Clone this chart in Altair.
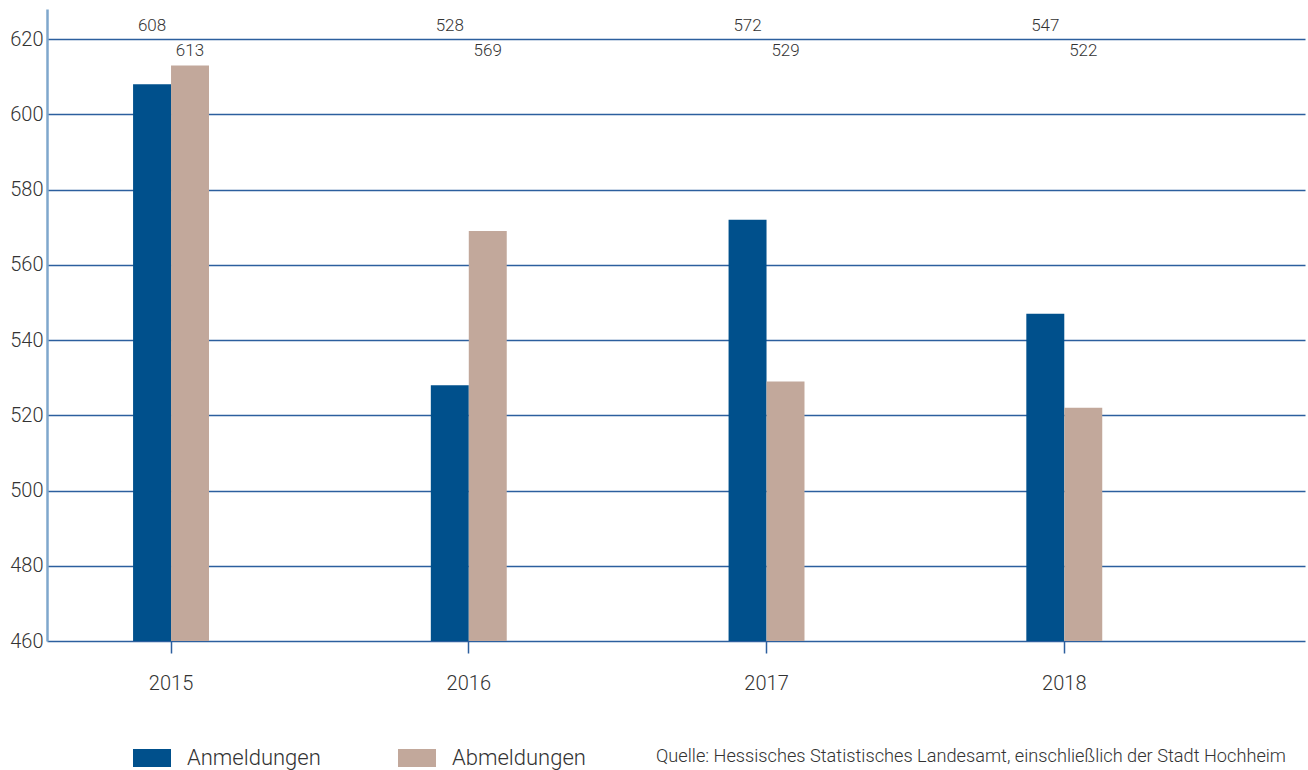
import altair as alt
import pandas as pd

years = ["2015", "2016", "2017", "2018"]
anmeldungen = [608, 528, 572, 547]
abmeldungen = [613, 569, 529, 522]
series = ["Anmeldungen", "Abmeldungen"]
colors = ["#00508c", "#c2a89b"]
y_ticks = [460, 480, 500, 520, 540, 560, 580, 600, 620]
source = "Quelle: Hessisches Statistisches Landesamt, einschließlich der Stadt Hochheim"

rows = []
for i, yr in enumerate(years):
    rows.append({"Jahr": yr, "Serie": series[0], "Wert": anmeldungen[i]})
    rows.append({"Jahr": yr, "Serie": series[1], "Wert": abmeldungen[i]})
df = pd.DataFrame(rows)

FONT = "Roboto"
TXT = "#333333"
GRID = "#2c5f9e"

x_enc = alt.X(
    "Jahr:N",
    sort=years,
    scale=alt.Scale(paddingInner=0.745, paddingOuter=0.485, align=0.298),
    axis=alt.Axis(
        title=None, labelAngle=0, domain=False, ticks=True, tickColor=GRID,
        tickSize=12, tickWidth=1.5, labelPadding=20, labelFontSize=20,
        labelColor=TXT, labelFont=FONT, labelFontWeight=300, grid=False,
    ),
)
xoff = alt.XOffset("Serie:N", sort=series, scale=alt.Scale(domain=series, paddingInner=0, paddingOuter=0))
color = alt.Color(
    "Serie:N",
    scale=alt.Scale(domain=series, range=colors),
    legend=alt.Legend(
        title=None, orient="none", legendX=86, legendY=730, direction="horizontal",
        symbolType="M-1,-0.47H1V0.47H-1Z", symbolSize=1444, symbolStrokeWidth=0,
        symbolOpacity=1, labelFontSize=22, labelFont=FONT, labelFontWeight=300,
        labelColor=TXT, labelOffset=16, columnPadding=77,
    ),
)

y_scale = alt.Scale(domain=[460, 628], zero=False, nice=False)

bars = alt.Chart(df).mark_bar().encode(
    x=x_enc,
    xOffset=xoff,
    y=alt.Y(
        "Wert:Q", scale=y_scale,
        axis=alt.Axis(
            title=None, values=y_ticks, grid=True, gridColor=GRID, gridWidth=1.5,
            domain=True, domainColor="#7fa7cc", domainWidth=2.5, ticks=False,
            labelPadding=4, labelFontSize=20, labelColor=TXT, labelFont=FONT,
            labelFontWeight=300,
        ),
    ),
    y2=alt.datum(460),
    color=color,
)

lab_an = alt.Chart(df).transform_filter(alt.datum.Serie == series[0]).mark_text(
    fontSize=17, font=FONT, fontWeight=300, color=TXT, baseline="middle"
).encode(x=x_enc, xOffset=xoff, y=alt.value(17), text="Wert:Q")

lab_ab = alt.Chart(df).transform_filter(alt.datum.Serie == series[1]).mark_text(
    fontSize=17, font=FONT, fontWeight=300, color=TXT, baseline="middle"
).encode(x=x_enc, xOffset=xoff, y=alt.value(42), text="Wert:Q")

src = alt.Chart(pd.DataFrame({"t": [source]})).mark_text(
    fontSize=18.2, font=FONT, fontWeight=300, color=TXT, align="right", baseline="middle"
).encode(x=alt.value(1239), y=alt.value(748), text="t:N")

chart = alt.layer(bars, lab_an, lab_ab, src).properties(
    width=1258, height=632,
    autosize=alt.AutoSizeParams(type="none"),
    padding={"left": 47, "top": 9, "right": 3, "bottom": 129},
).configure_view(stroke=None)

chart.save("out.html", embed_options={"renderer": "svg", "actions": False})
